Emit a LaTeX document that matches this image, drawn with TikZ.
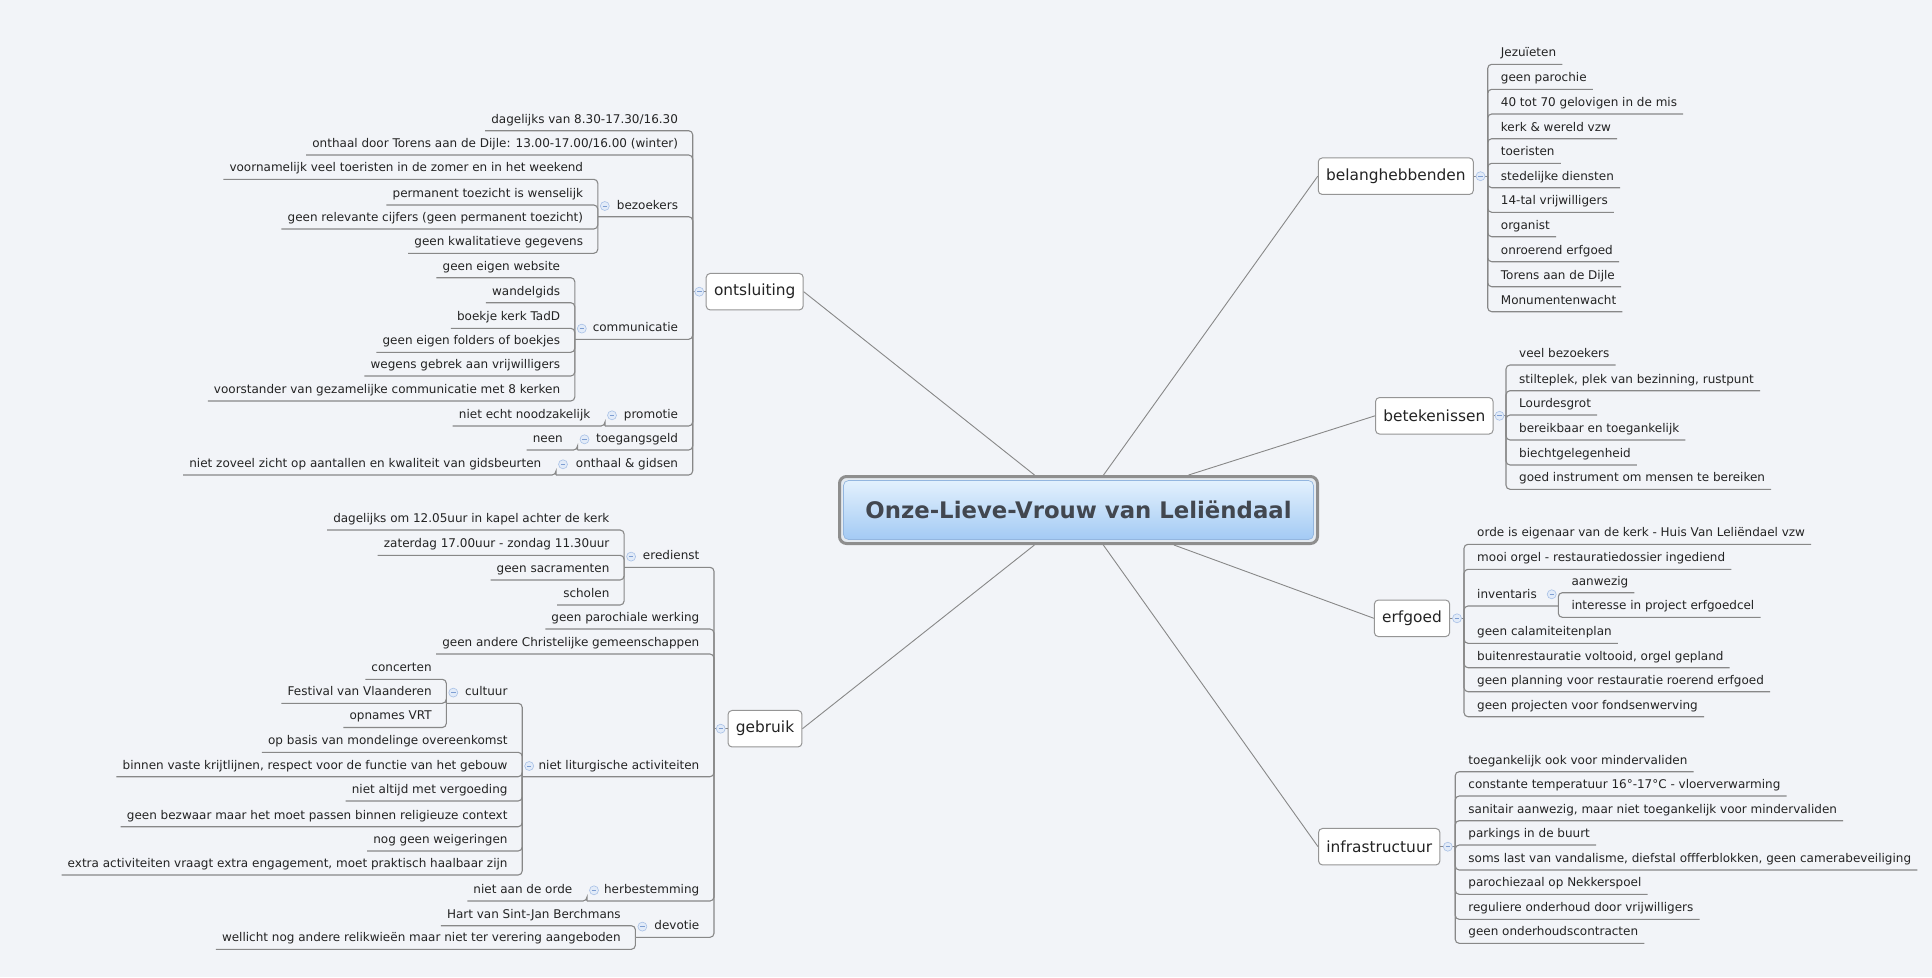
\documentclass[tikz,border=0pt]{standalone}
\usepackage{fontspec}
\setmainfont{DejaVu Sans}
\definecolor{bg}{HTML}{F2F4F8}
\definecolor{linegray}{HTML}{888888}
\definecolor{boxgray}{HTML}{959595}
\definecolor{txt}{HTML}{232323}
\definecolor{btnfill}{HTML}{E2EBF8}
\definecolor{btnborder}{HTML}{A9C1E6}
\definecolor{btnminus}{HTML}{7E9ED2}
\definecolor{titletxt}{HTML}{42474F}
\definecolor{ctop}{HTML}{E3F1FD}
\definecolor{cbot}{HTML}{A3CAF4}
\definecolor{cframe}{HTML}{8E8E8E}
\definecolor{cfill}{HTML}{E4EAF0}
\definecolor{cinner}{HTML}{93B6DF}
\tikzset{
  conn/.style={draw=linegray, line width=1.1pt, rounded corners=4pt},
  mainconn/.style={draw=linegray, line width=0.9pt},
  leafbase/.style={font=\fontsize{12}{14}\selectfont, text=txt, inner xsep=6pt, inner ysep=4.6pt, text height=9pt, text depth=2.8pt},
  leafL/.style={leafbase, anchor=south east},
  leafR/.style={leafbase, anchor=south west},
  topic/.style={draw=boxgray, line width=1pt, fill=white, rounded corners=4pt, font=\fontsize{15.4}{18}\selectfont, text=txt, inner xsep=7.8pt, minimum height=36.5pt},
  btn/.style={circle, draw=btnborder, fill=btnfill, line width=0.6pt, minimum size=9pt, inner sep=0pt,
    path picture={\draw[btnminus, line width=0.8pt] ([xshift=-2.2pt]path picture bounding box.center) -- ([xshift=2.2pt]path picture bounding box.center);}},
}
% left leaf: name, parent coordinate, vertical x, underline y, text
\newcommand{\lleaf}[5]{%
  \node[leafL] (#1) at ({#3-8.5},{#4}) {#5};
  \draw[conn] (#2) |- (#1.south west);
}
% right leaf
\newcommand{\rleaf}[5]{%
  \node[leafR] (#1) at ({#3+7},{#4}) {#5};
  \draw[conn] (#2) |- (#1.south east);
}
% left sub-topic: name, parent, vertical x, underline y, text, child vertical x
\newcommand{\lsub}[6]{%
  \node[leafL] (#1) at ({#3-8.5},{#4}) {#5};
  \coordinate (#1J) at (#6,#4);
  \draw[conn] (#2) |- (#1J);
  \node[btn] (#1B) at ({#6+7},{#4-10.7}) {};
}
\newcommand{\rsub}[6]{%
  \node[leafR] (#1) at ({#3+7},{#4}) {#5};
  \coordinate (#1J) at (#6,#4);
  \draw[conn] (#2) |- (#1J);
  \node[btn] (#1B) at ({#6-6.6},{#4-11.7}) {};
}
\begin{document}
\begin{tikzpicture}[x=1pt,y=-1pt]
\fill[bg] (0,0) rectangle (1932,977);
\useasboundingbox (0,0) rectangle (1932,977);

% central topic
\node[draw=cframe, line width=3pt, rounded corners=7pt, fill=cfill, minimum width=478pt, minimum height=67pt] (central) at (1078.5,510) {};
\node[rounded corners=5pt, top color=ctop, bottom color=cbot, draw=cinner, line width=0.7pt, minimum width=470pt, minimum height=59pt, font=\fontsize{22.8}{26}\selectfont\bfseries, text=titletxt] (title) at (central.center) {Onze-Lieve-Vrouw van Leliëndaal};

% main topics
\node[topic] (ont) at (754.7,291.7) {ontsluiting};
\node[topic] (geb) at (765,728.7) {gebruik};
\node[topic] (bel) at (1395.8,176.2) {belanghebbenden};
\node[topic] (bet) at (1434.3,415.8) {betekenissen};
\node[topic] (erf) at (1412,618.3) {erfgoed};
\node[topic] (inf) at (1379.2,846.7) {infrastructuur};

% main connectors
\draw[mainconn] (ont.east) -- (central);
\draw[mainconn] (geb.east) -- (central);
\draw[mainconn] (bel.west) -- (central);
\draw[mainconn] (bet.west) -- (central);
\draw[mainconn] (erf.west) -- (central);
\draw[mainconn] (inf.west) -- (central);

% junctions of main topics
\coordinate (ontJ) at (692.7,291.7);
\coordinate (gebJ) at (714,728.7);
\coordinate (belJ) at (1487.7,176.2);
\coordinate (betJ) at (1506,415.8);
\coordinate (erfJ) at (1464,618.3);
\coordinate (infJ) at (1455.2,846.7);
\draw[conn] (ont.west) -- (ontJ);
\draw[conn] (geb.west) -- (gebJ);
\draw[conn] (bel.east) -- (belJ);
\draw[conn] (bet.east) -- (betJ);
\draw[conn] (erf.east) -- (erfJ);
\draw[conn] (inf.east) -- (infJ);

% ---- ontsluiting
\lleaf{o1}{ontJ}{692.7}{130.7}{dagelijks van 8.30-17.30/16.30}
\lleaf{o2}{ontJ}{692.7}{155}{onthaal door Torens aan de Dijle: 13.00-17.00/16.00 (winter)}
\lsub{bez}{ontJ}{692.7}{216.7}{bezoekers}{597.8}
\lleaf{b1}{bezJ}{597.8}{179.3}{voornamelijk veel toeristen in de zomer en in het weekend}
\lleaf{b2}{bezJ}{597.8}{205}{permanent toezicht is wenselijk}
\lleaf{b3}{bezJ}{597.8}{229}{geen relevante cijfers (geen permanent toezicht)}
\lleaf{b4}{bezJ}{597.8}{253.3}{geen kwalitatieve gegevens}
\lsub{com}{ontJ}{692.7}{339.3}{communicatie}{574.8}
\lleaf{c1}{comJ}{574.8}{277.7}{geen eigen website}
\lleaf{c2}{comJ}{574.8}{302.7}{wandelgids}
\lleaf{c3}{comJ}{574.8}{328.3}{boekje kerk TadD}
\lleaf{c4}{comJ}{574.8}{352.3}{geen eigen folders of boekjes}
\lleaf{c5}{comJ}{574.8}{376}{wegens gebrek aan vrijwilligers}
\lleaf{c6}{comJ}{574.8}{401}{voorstander van gezamelijke communicatie met 8 kerken}
\lsub{pro}{ontJ}{692.7}{426}{promotie}{605}
\lleaf{p1}{proJ}{605}{426}{niet echt noodzakelijk}
\lsub{toe}{ontJ}{692.7}{450}{toegangsgeld}{577.5}
\lleaf{t1}{toeJ}{577.5}{450}{neen}
\lsub{ong}{ontJ}{692.7}{475}{onthaal \& gidsen}{556}
\lleaf{g1}{ongJ}{556}{475}{niet zoveel zicht op aantallen en kwaliteit van gidsbeurten}

% ---- gebruik
\lsub{ere}{gebJ}{714}{567.3}{eredienst}{624.1}
\lleaf{e1}{ereJ}{624.1}{530}{dagelijks om 12.05uur in kapel achter de kerk}
\lleaf{e2}{ereJ}{624.1}{555.3}{zaterdag 17.00uur - zondag 11.30uur}
\lleaf{e3}{ereJ}{624.1}{580}{geen sacramenten}
\lleaf{e4}{ereJ}{624.1}{605}{scholen}
\lleaf{u1}{gebJ}{714}{629}{geen parochiale werking}
\lleaf{u2}{gebJ}{714}{654}{geen andere Christelijke gemeenschappen}
\lsub{nla}{gebJ}{714}{776.7}{niet liturgische activiteiten}{522.2}
\lsub{cul}{nlaJ}{522.2}{703.3}{cultuur}{446.3}
\lleaf{k1}{culJ}{446.3}{679.3}{concerten}
\lleaf{k2}{culJ}{446.3}{703.3}{Festival van Vlaanderen}
\lleaf{k3}{culJ}{446.3}{727.5}{opnames VRT}
\lleaf{n1}{nlaJ}{522.2}{752.3}{op basis van mondelinge overeenkomst}
\lleaf{n2}{nlaJ}{522.2}{776.7}{binnen vaste krijtlijnen, respect voor de functie van het gebouw}
\lleaf{n3}{nlaJ}{522.2}{801}{niet altijd met vergoeding}
\lleaf{n4}{nlaJ}{522.2}{826.7}{geen bezwaar maar het moet passen binnen religieuze context}
\lleaf{n5}{nlaJ}{522.2}{851}{nog geen weigeringen}
\lleaf{n6}{nlaJ}{522.2}{875}{extra activiteiten vraagt extra engagement, moet praktisch haalbaar zijn}
\lsub{her}{gebJ}{714}{901}{herbestemming}{587}
\lleaf{h1}{herJ}{587}{901}{niet aan de orde}
\lsub{dev}{gebJ}{714}{937.3}{devotie}{635.4}
\lleaf{d1}{devJ}{635.4}{925.7}{Hart van Sint-Jan Berchmans}
\lleaf{d2}{devJ}{635.4}{949.3}{wellicht nog andere relikwieën maar niet ter verering aangeboden}

% ---- belanghebbenden
\rleaf{r1}{belJ}{1487.7}{64.3}{Jezuïeten}
\rleaf{r2}{belJ}{1487.7}{89.3}{geen parochie}
\rleaf{r3}{belJ}{1487.7}{114}{40 tot 70 gelovigen in de mis}
\rleaf{r4}{belJ}{1487.7}{138.7}{kerk \& wereld vzw}
\rleaf{r5}{belJ}{1487.7}{163.3}{toeristen}
\rleaf{r6}{belJ}{1487.7}{187.7}{stedelijke diensten}
\rleaf{r7}{belJ}{1487.7}{212.3}{14-tal vrijwilligers}
\rleaf{r8}{belJ}{1487.7}{236.7}{organist}
\rleaf{r9}{belJ}{1487.7}{261.7}{onroerend erfgoed}
\rleaf{r10}{belJ}{1487.7}{286.7}{Torens aan de Dijle}
\rleaf{r11}{belJ}{1487.7}{311.7}{Monumentenwacht}

% ---- betekenissen
\rleaf{s1}{betJ}{1506}{365}{veel bezoekers}
\rleaf{s2}{betJ}{1506}{390.7}{stilteplek, plek van bezinning, rustpunt}
\rleaf{s3}{betJ}{1506}{415}{Lourdesgrot}
\rleaf{s4}{betJ}{1506}{440}{bereikbaar en toegankelijk}
\rleaf{s5}{betJ}{1506}{465}{biechtgelegenheid}
\rleaf{s6}{betJ}{1506}{489.3}{goed instrument om mensen te bereiken}

% ---- erfgoed
\rleaf{f1}{erfJ}{1464}{544.3}{orde is eigenaar van de kerk - Huis Van Leliëndael vzw}
\rleaf{f2}{erfJ}{1464}{569.3}{mooi orgel - restauratiedossier ingediend}
\rsub{inv}{erfJ}{1464}{606}{inventaris}{1558.3}
\rleaf{i1}{invJ}{1558.3}{592.7}{aanwezig}
\rleaf{i2}{invJ}{1558.3}{617.3}{interesse in project erfgoedcel}
\rleaf{f3}{erfJ}{1464}{643.3}{geen calamiteitenplan}
\rleaf{f4}{erfJ}{1464}{667.7}{buitenrestauratie voltooid, orgel gepland}
\rleaf{f5}{erfJ}{1464}{691.7}{geen planning voor restauratie roerend erfgoed}
\rleaf{f6}{erfJ}{1464}{716.7}{geen projecten voor fondsenwerving}

% ---- infrastructuur
\rleaf{x1}{infJ}{1455.2}{771.7}{toegankelijk ook voor mindervaliden}
\rleaf{x2}{infJ}{1455.2}{796}{constante temperatuur 16°-17°C - vloerverwarming}
\rleaf{x3}{infJ}{1455.2}{820.7}{sanitair aanwezig, maar niet toegankelijk voor mindervaliden}
\rleaf{x4}{infJ}{1455.2}{845}{parkings in de buurt}
\rleaf{x5}{infJ}{1455.2}{870}{soms last van vandalisme, diefstal offferblokken, geen camerabeveiliging}
\rleaf{x6}{infJ}{1455.2}{894.3}{parochiezaal op Nekkerspoel}
\rleaf{x7}{infJ}{1455.2}{919.3}{reguliere onderhoud door vrijwilligers}
\rleaf{x8}{infJ}{1455.2}{943.3}{geen onderhoudscontracten}

% collapse buttons of main topics
\node[btn] (ontB) at (699.3,291.7) {};
\node[btn] (gebB) at (720.7,728.7) {};
\node[btn] (belB) at (1480.5,176.2) {};
\node[btn] (betB) at (1499.5,415.8) {};
\node[btn] (erfB) at (1457,618.3) {};
\node[btn] (infB) at (1447.8,846.7) {};
\end{tikzpicture}
\end{document}
